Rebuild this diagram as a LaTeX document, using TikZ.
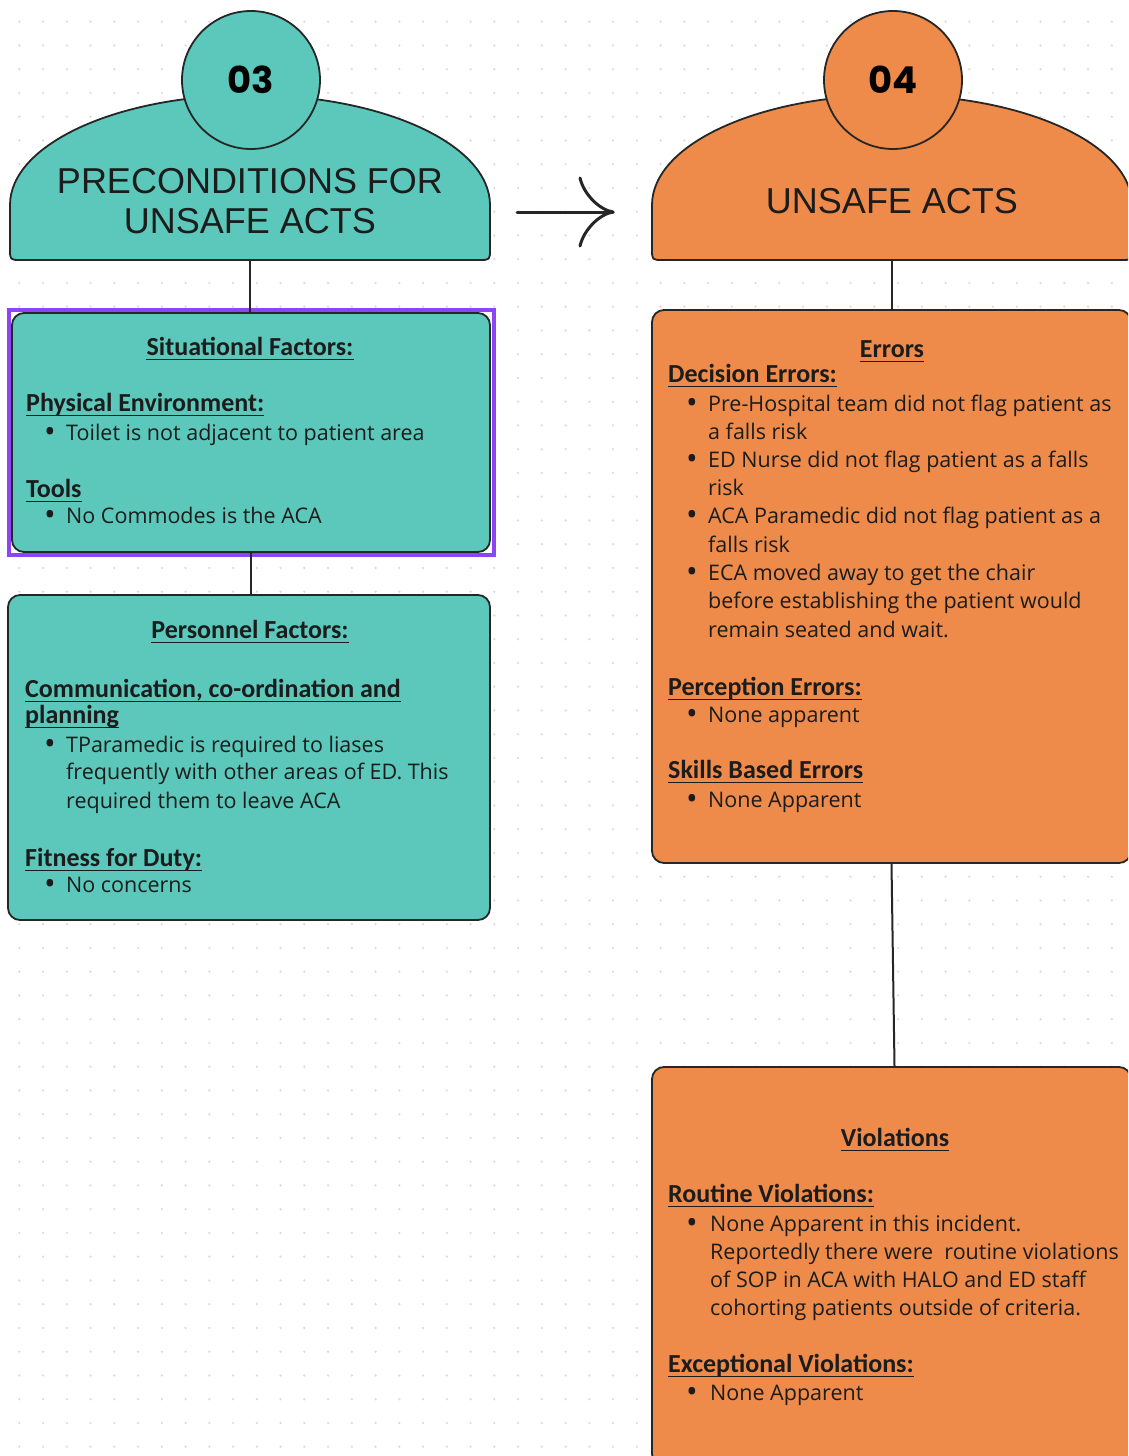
\documentclass[tikz,border=0pt]{standalone}
\usepackage{fontspec}
\setmainfont{Open Sans}
\newfontfamily\hfont{Carlito}
\newfontfamily\tfont{Liberation Sans}
\newfontfamily\nfont{Poppins}
\definecolor{teal3}{HTML}{5BC8BB}
\definecolor{orng4}{HTML}{EE8B4B}
\definecolor{edge}{HTML}{262626}
\definecolor{ink}{HTML}{1C1C1C}
\definecolor{dotc}{HTML}{DDDDDD}
\definecolor{sel}{HTML}{8B45F5}
\tikzset{
  shapeline/.style={draw=edge, line width=1.8pt},
  panel/.style={shapeline, rounded corners=12pt, inner sep=0pt},
  conn/.style={draw=edge, line width=2pt},
  body/.style={anchor=base west, inner sep=0pt, text=ink, font=\fontsize{21.5}{28}\selectfont},
  bul/.style={anchor=base, inner sep=0pt, text=ink, font=\fontsize{31}{31}\selectfont},
  head/.style={anchor=base west, inner sep=0pt, text=ink, font=\hfont\bfseries\fontsize{26}{30}\selectfont},
  headc/.style={head, anchor=base},
  title/.style={anchor=base, inner sep=0pt, text=ink, font=\tfont\fontsize{36}{40}\selectfont},
  numc/.style={circle, shapeline, minimum size=138pt, inner sep=0pt, text=black, font=\nfont\bfseries\fontsize{37}{37}\selectfont},
  ulline/.style={draw=ink, line width=1.5pt},
}
\newcommand\bl[3]{\node[bul] (#1) at (#2,#3+2.5) {•};}
\begin{document}
\begin{tikzpicture}[x=1pt, y=-1pt]
\useasboundingbox (0,0) rectangle (1128,1456);
\begin{scope}
\clip (0,0) rectangle (1128,1456);
\fill[white] (0,0) rectangle (1128,1456);
% dot grid
\foreach \i in {0,...,47}{
  \foreach \j in {0,...,61}{
    \fill[dotc] ({19.3+23.75*\i},{21.7+23.75*\j}) circle (1.3pt);
  }
}
% header 03
\path[shapeline, fill=teal3] (10,205) .. controls (10,144.25) and (117.5,95) .. (250,95)
  .. controls (382.5,95) and (490,144.25) .. (490,205) -- (490,249)
  .. controls (490,260) .. (479,260) -- (21,260) .. controls (10,260) .. (10,249) -- cycle;
\node[numc, fill=teal3] (c3) at (251,80) {03};
\node[title] (t3a) at (250,193) {PRECONDITIONS FOR};
\node[title] (t3b) at (250,233) {UNSAFE ACTS};
\coordinate (h3b) at (250,260);
% header 04
\path[shapeline, fill=orng4] (652,205) .. controls (652,144.25) and (759.5,95) .. (892,95)
  .. controls (1024.5,95) and (1132,144.25) .. (1132,205) -- (1132,249)
  .. controls (1132,260) .. (1121,260) -- (663,260) .. controls (652,260) .. (652,249) -- cycle;
\node[numc, fill=orng4] (c4) at (893,80) {04};
\node[title] (t4) at (892,213) {UNSAFE ACTS};
\coordinate (h4b) at (892,260);
% arrow between headers
\coordinate (arrS) at (517,212);
\coordinate (arrE) at (613,212);
\draw[conn, line width=3pt, line cap=round] (arrS) -- (arrE);
\draw[conn, line width=3pt, line cap=round] (arrE) .. controls (600,210) and (584,195) .. (580,178);
\draw[conn, line width=3pt, line cap=round] (arrE) .. controls (600,214) and (584,229) .. (580,246);
% boxes
\node[panel, fill=teal3, minimum width=478pt, minimum height=239pt] (sit) at (251,432.5) {};
\node[panel, fill=teal3, minimum width=482pt, minimum height=325pt] (pers) at (249,757.5) {};
\node[panel, fill=orng4, minimum width=479pt, minimum height=553pt] (err) at (891.5,586.5) {};
\node[panel, fill=orng4, minimum width=479pt, minimum height=399pt] (vio) at (891.5,1266.5) {};
\draw[sel, line width=4pt] (8.5,310) rectangle (493.5,555);
% connectors
\draw[conn] (h3b) -- (h3b |- sit.north);
\draw[conn] (sit.south) -- (sit.south |- pers.north);
\draw[conn] (h4b) -- (h4b |- err.north);
\draw[conn] (err.south) -- ([xshift=3pt]vio.north);
% situational text
\node[headc] (s0) at (250,355) {Situational Factors:};
\node[head] (s1) at (26,411) {Physical Environment:};
\bl{sb1}{50}{440}\node[body] (s2) at (66,440) {Toilet is not adjacent to patient area};
\node[head] (s3) at (26,497) {Tools};
\bl{sb2}{50}{523}\node[body] (s4) at (66,523) {No Commodes is the ACA};
% personnel text
\node[headc] (p0) at (250,638) {Personnel Factors:};
\node[head] (p1) at (25,697) {Communication, co-ordination and};
\node[head] (p2) at (25,723) {planning};
\bl{pb1}{50}{752}\node[body] (p3) at (66,752) {TParamedic is required to liases};
\node[body] (p4) at (66,779) {frequently with other areas of ED. This};
\node[body] (p5) at (66,808) {required them to leave ACA};
\node[head] (p6) at (25,866) {Fitness for Duty:};
\bl{pb2}{50}{892}\node[body] (p7) at (66,892) {No concerns};
% errors text
\node[headc] (e0) at (892,357) {Errors};
\node[head] (e1) at (668,382) {Decision Errors:};
\bl{eb1}{692}{411}\node[body] (e2) at (708,411) {Pre-Hospital team did not flag patient as};
\node[body] (e3) at (708,439) {a falls risk};
\bl{eb2}{692}{467}\node[body] (e4) at (708,467) {ED Nurse did not flag patient as a falls};
\node[body] (e5) at (708,495) {risk};
\bl{eb3}{692}{523}\node[body] (e6) at (708,523) {ACA Paramedic did not flag patient as a};
\node[body] (e7) at (708,552) {falls risk};
\bl{eb4}{692}{580}\node[body] (e8) at (708,580) {ECA moved away to get the chair};
\node[body] (e9) at (708,608) {before establishing the patient would};
\node[body] (e10) at (708,637) {remain seated and wait.};
\node[head] (e11) at (668,695) {Perception Errors:};
\bl{eb5}{692}{722}\node[body] (e12) at (708,722) {None apparent};
\node[head] (e13) at (668,778) {Skills Based Errors};
\bl{eb6}{692}{807}\node[body] (e14) at (708,807) {None Apparent};
% violations text
\node[headc] (v0) at (895,1146) {Violations};
\node[head] (v1) at (668,1202) {Routine Violations:};
\bl{vb1}{692}{1231}\node[body] (v2) at (710,1231) {None Apparent in this incident.};
\node[body] (v3) at (710,1259) {Reportedly there were\ \ routine violations};
\node[body] (v4) at (710,1287) {of SOP in ACA with HALO and ED staff};
\node[body] (v5) at (710,1315) {cohorting patients outside of criteria.};
\node[head] (v6) at (668,1372) {Exceptional Violations:};
\bl{vb2}{692}{1400}\node[body] (v7) at (710,1400) {None Apparent};
% underlines of headings
\foreach \n in {s0,s1,s3,p0,p1,p2,p6,e0,e1,e11,e13,v0,v1,v6}{
  \draw[ulline] ([yshift=-4.3pt]\n.base west) -- ([yshift=-4.3pt]\n.base east);
}
\end{scope}
\end{tikzpicture}
\end{document}
